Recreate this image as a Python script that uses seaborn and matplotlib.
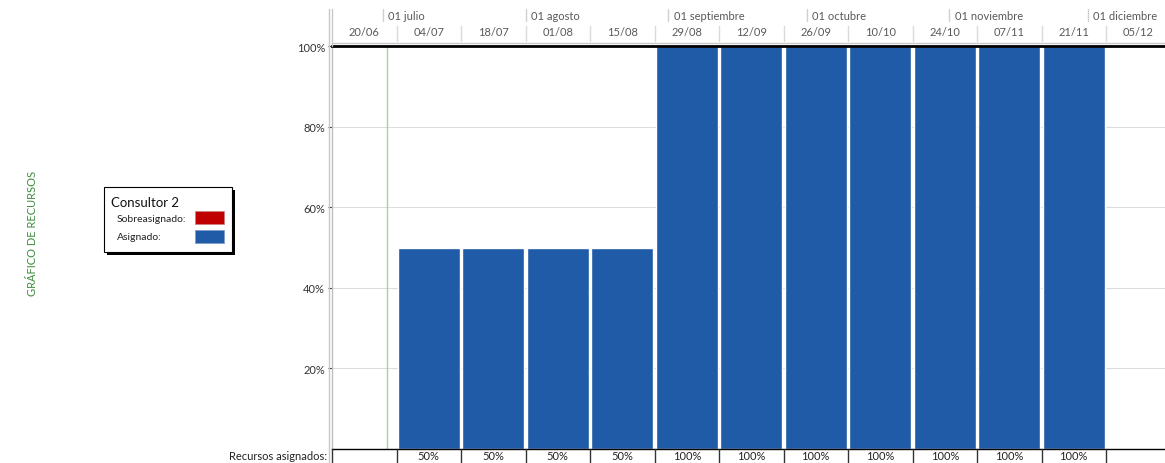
import numpy as np
import pandas as pd
import matplotlib
matplotlib.use("Agg")
import matplotlib.pyplot as plt
import matplotlib.transforms as mtrans
from matplotlib.lines import Line2D
from matplotlib.patches import Rectangle
import seaborn as sns

# Data: two-week buckets starting on each date
start_date = "2021-06-20"
col_labels = ["20/06", "04/07", "18/07", "01/08", "15/08", "29/08", "12/09",
              "26/09", "10/10", "24/10", "07/11", "21/11", "05/12"]
assigned = [0, 50, 50, 50, 50, 100, 100, 100, 100, 100, 100, 100, 0]
month_labels = ["01 julio", "01 agosto", "01 septiembre", "01 octubre",
                "01 noviembre", "01 diciembre"]
month_dates = ["2021-07-01", "2021-08-01", "2021-09-01", "2021-10-01",
               "2021-11-01", "2021-12-01"]
today = "2021-07-02"
y_ticks = [20, 40, 60, 80, 100]

df = pd.DataFrame({"periodo": col_labels, "asignado": assigned})

W, H = 1165, 464
sns.set_theme(style="white")
plt.rcParams["font.family"] = ["Lato", "DejaVu Sans"]

fig = plt.figure(figsize=(W / 100, H / 100), dpi=100)
ax = fig.add_axes([332 / W, 1 - 450 / H, 1 - 332 / W, (450 - 47) / H])

blue = "#1F5BA6"
red = "#C00000"
fs = 8

sns.barplot(data=df, x="periodo", y="asignado", order=col_labels,
            color=blue, width=0.965, saturation=1, ax=ax)

ax.set_ylim(0, 100)
ax.set_xlim(-0.5, len(col_labels) - 0.5 - 5.5 / 64.5)
ax.set_xlabel("")
ax.set_ylabel("")
ax.set_xticks([])
ax.set_yticks(y_ticks)
ax.set_yticklabels([f"{v}%" for v in y_ticks], fontsize=fs, color="#333333")
ax.tick_params(axis="y", direction="out", length=3, width=0.8, color="#333333", left=True, pad=2)
ax.yaxis.grid(True, color="#DDDDDD", linewidth=0.8)
ax.set_axisbelow(True)

ax.spines["right"].set_visible(False)
ax.spines["left"].set_color("#BFBFBF")
ax.spines["left"].set_linewidth(1)
ax.spines["bottom"].set_color("#000000")
ax.spines["bottom"].set_linewidth(1)
ax.spines["top"].set_color("#000000")
ax.spines["top"].set_linewidth(2)

tr = mtrans.blended_transform_factory(ax.transData, fig.transFigure)


def fy(px):
    return 1 - px / H


def day_x(date):
    d = (pd.Timestamp(date) - pd.Timestamp(start_date)).days
    return -0.5 + d / 14


# today line
ax.axvline(day_x(today), color="#A8CFA8", linewidth=1)

# header: month row
for lab, d in zip(month_labels, month_dates):
    x = day_x(d)
    fig.add_artist(Line2D([x, x], [fy(10), fy(22)], transform=tr, color="#D0D0D0", lw=1))
    ax.annotate(lab, xy=(x, fy(17)), xycoords=tr, xytext=(4, 0), textcoords="offset points",
                ha="left", va="center", fontsize=fs, color="#595959", annotation_clip=False)

# header: column row
for i, lab in enumerate(col_labels):
    fig.add_artist(Line2D([i + 0.5, i + 0.5], [fy(27), fy(42)], transform=tr, color="#D9D9D9", lw=1))
    ax.text(i, fy(33), lab, transform=tr, ha="center", va="center", fontsize=fs, color="#595959")
fig.add_artist(Line2D([332 / W, 1], [fy(43.5), fy(43.5)], transform=fig.transFigure, color="#C8C8C8", lw=1))

# left double border
fig.add_artist(Line2D([329 / W, 329 / W], [fy(10), fy(464)], transform=fig.transFigure, color="#C8C8C8", lw=1))
fig.add_artist(Line2D([332 / W, 332 / W], [fy(10), fy(47)], transform=fig.transFigure, color="#C8C8C8", lw=1))

# bottom row: Recursos asignados
fig.text(327 / W, fy(457), "Recursos asignados:", ha="right", va="center", fontsize=fs, color="#222222")
for i in range(len(col_labels)):
    fig.add_artist(Line2D([i - 0.5, i - 0.5], [fy(450), fy(464)], transform=tr, color="#333333", lw=1))
for i, v in enumerate(assigned):
    if v > 0:
        ax.text(i, fy(457), f"{v}%", transform=tr, ha="center", va="center", fontsize=fs, color="#222222")

# side title
fig.text(32 / W, fy(233), "GRÁFICO DE RECURSOS", rotation=90, ha="center", va="center",
         fontsize=8, color="#3C8C3C")

# legend box
fig.add_artist(Rectangle((107 / W, fy(256)), 128 / W, 65 / H, transform=fig.transFigure,
                         facecolor="black", edgecolor="none"))
fig.add_artist(Rectangle((104 / W, fy(253)), 128 / W, 65 / H, transform=fig.transFigure,
                         facecolor="white", edgecolor="black", lw=0.8))
fig.text(111 / W, fy(203), "Consultor 2", ha="left", va="center", fontsize=9.5, color="#111111")
fig.text(117 / W, fy(219), "Sobreasignado:", ha="left", va="center", fontsize=7.5, color="#222222")
fig.text(117 / W, fy(238), "Asignado:", ha="left", va="center", fontsize=7.5, color="#222222")
fig.add_artist(Rectangle((195 / W, fy(225)), 29 / W, 13 / H, transform=fig.transFigure,
                         facecolor=red, edgecolor="#D08080", lw=0.6))
fig.add_artist(Rectangle((195 / W, fy(244)), 29 / W, 13 / H, transform=fig.transFigure,
                         facecolor=blue, edgecolor="#7FA0CC", lw=0.6))

fig.savefig("out.png", dpi=100)
